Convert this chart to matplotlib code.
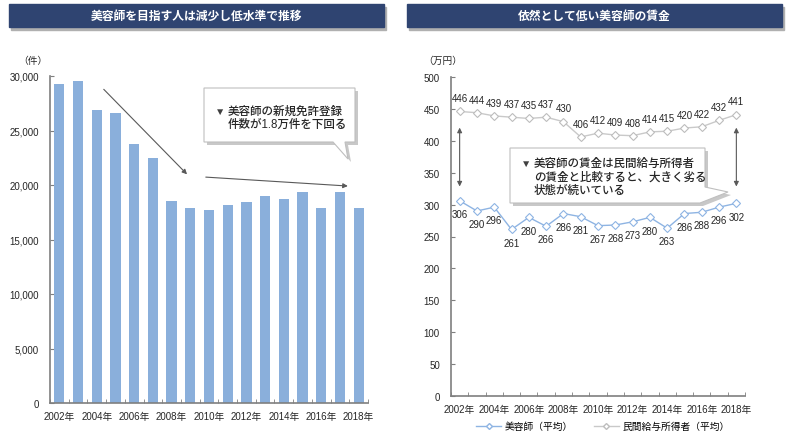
import matplotlib
matplotlib.use("Agg")
import matplotlib.pyplot as plt
from matplotlib.patches import Rectangle, Polygon
from matplotlib.lines import Line2D
import numpy as np

plt.rcParams['font.family'] = ['Liberation Sans', 'Noto Sans CJK JP', 'DejaVu Sans']

years = list(range(2002, 2019))
year_labels = [f"{y}年" for y in years]
new_licenses = [29300, 29500, 26900, 26600, 23800, 22500, 18500, 17900, 17700,
                18200, 18400, 19000, 18700, 19400, 17900, 19400, 17900]
beautician_pay = [306, 290, 296, 261, 280, 266, 286, 281, 267, 268, 273, 280,
                  263, 286, 288, 296, 302]
general_pay = [446, 444, 439, 437, 435, 437, 430, 406, 412, 409, 408, 414,
               415, 420, 422, 432, 441]

W, H = 800, 439
fig = plt.figure(figsize=(W / 100, H / 100), dpi=100)


def fx(x):
    return x / W


def fy(y):
    return 1 - y / H


def fp(pts):
    return [(fx(x), fy(y)) for x, y in pts]


navy = '#2F4471'
axis_col = '#7F7F7F'
text_col = '#262626'

# title banners
for x0, title in [(9, '美容師を目指す人は減少し低水準で推移'), (407, '依然として低い美容師の賃金')]:
    fig.patches.append(Rectangle((fx(x0 + 2), fy(31)), 375 / W, 23 / H,
                                 transform=fig.transFigure, color='#B0B0B0', zorder=1))
    fig.patches.append(Rectangle((fx(x0), fy(28)), 375 / W, 23 / H,
                                 transform=fig.transFigure, color=navy, zorder=2))
    fig.text(fx(x0 + 187.5), fy(16.5), title, color='white', fontsize=8.5,
             fontweight='bold', ha='center', va='center', zorder=3)

x = np.arange(len(years))

# left chart
ax1 = fig.add_axes([fx(50), fy(404), 318 / W, 327 / H])
ax1.bar(x, new_licenses, width=0.55, color='#8AAFDB', zorder=2)
ax1.set_xlim(-0.5, 16.5)
ax1.set_ylim(0, 30000)
ax1.set_yticks(range(0, 30001, 5000))
ax1.set_yticklabels([f"{v:,}" for v in range(0, 30001, 5000)])

# right chart
ax2 = fig.add_axes([fx(451), fy(397), 294 / W, 319 / H])
ax2.plot(x, general_pay, color='#C9C9C9', lw=1, marker='D', ms=4,
         mfc='white', mec='#BDBDBD', mew=0.8, zorder=3)
ax2.plot(x, beautician_pay, color='#8EB4E3', lw=1, marker='D', ms=4,
         mfc='white', mec='#8EB4E3', mew=0.8, zorder=3)
for i in x:
    ax2.annotate(str(general_pay[i]), (i, general_pay[i]), xytext=(0, 9.5),
                 textcoords='offset points', ha='center', va='center',
                 fontsize=7, color=text_col)
    ax2.annotate(str(beautician_pay[i]), (i, beautician_pay[i]), xytext=(0, -9.5),
                 textcoords='offset points', ha='center', va='center',
                 fontsize=7, color=text_col)
ax2.set_xlim(-0.5, 16.5)
ax2.set_ylim(0, 500)
ax2.set_yticks(range(0, 501, 50))

for ax in (ax1, ax2):
    for s in ('top', 'right'):
        ax.spines[s].set_visible(False)
    for s in ('left', 'bottom'):
        ax.spines[s].set_color(axis_col)
        ax.spines[s].set_linewidth(1.2)
    ax.set_xticks(x[::2])
    ax.set_xticklabels(year_labels[::2])
    ax.set_xticks(np.arange(-0.5, 17, 1), minor=True)
    ax.tick_params(axis='x', which='major', length=0, labelsize=7, pad=6, colors=text_col)
    ax.tick_params(axis='x', which='minor', length=3, direction='in', color=axis_col)
    ax.tick_params(axis='y', length=3, direction='in', color=axis_col,
                   labelsize=7, pad=8, labelcolor=text_col)

fig.text(fx(18), fy(61), '（件）', fontsize=7, va='center', color=text_col)
fig.text(fx(423), fy(61), '（万円）', fontsize=7, va='center', color=text_col)

# trend arrows on left chart
arrow_kw = dict(arrowstyle='-|>', color='#595959', lw=0.8, mutation_scale=7)
ax1.annotate('', xy=(6.93, 20800), xytext=(2.27, 28960), arrowprops=arrow_kw)
ax1.annotate('', xy=(15.57, 19890), xytext=(7.68, 20740), arrowprops=arrow_kw)

# gap arrows on right chart
gap_kw = dict(arrowstyle='<|-|>', color='#595959', lw=0.8, mutation_scale=7)
ax2.annotate('', xy=(0, 324), xytext=(0, 425), arrowprops=gap_kw)
ax2.annotate('', xy=(16, 324), xytext=(16, 425), arrowprops=gap_kw)

# callouts
left_bubble = [(204, 89), (355, 89), (355, 143), (345, 143), (348, 160), (333, 143), (204, 143)]
right_bubble = [(510, 149), (705, 149), (705, 188), (728, 193), (700, 204), (510, 204)]
for pts in (left_bubble, right_bubble):
    shadow = [(px_ + 3, py_ + 3) for px_, py_ in pts]
    fig.patches.append(Polygon(fp(shadow), closed=True, transform=fig.transFigure,
                               facecolor='#C8C8C8', edgecolor='none', zorder=4))
    fig.patches.append(Polygon(fp(pts), closed=True, transform=fig.transFigure,
                               facecolor='white', edgecolor='#BFBFBF', lw=0.8, zorder=5))

note_kw = dict(fontsize=8.3, va='center', color=text_col, zorder=6, fontweight='medium')
fig.text(fx(215), fy(111.5), '▼', fontsize=7.5, va='center', color='#404040', zorder=6)
fig.text(fx(228), fy(111.5), '美容師の新規免許登録', **note_kw)
fig.text(fx(228), fy(124.5), '件数が1.8万件を下回る', **note_kw)

fig.text(fx(521), fy(163.5), '▼', fontsize=7.5, va='center', color='#404040', zorder=6)
fig.text(fx(534), fy(163.5), '美容師の賃金は民間給与所得者', **note_kw)
fig.text(fx(534), fy(177.5), 'の賃金と比較すると、大きく劣る', **note_kw)
fig.text(fx(534), fy(191), '状態が続いている', **note_kw)

# legend
handles = [
    Line2D([], [], color='#8EB4E3', lw=1, marker='D', ms=3, mfc='white', mec='#8EB4E3'),
    Line2D([], [], color='#C9C9C9', lw=1, marker='D', ms=3, mfc='white', mec='#BDBDBD'),
]
fig.legend(handles, ['美容師（平均）', '民間給与所得者（平均）'], loc='center',
           bbox_to_anchor=(fx(603), fy(427)), ncol=2, frameon=False, fontsize=7,
           handlelength=2.5, columnspacing=2.2, handletextpad=0.4)

fig.savefig('out.png', dpi=100, facecolor='white')
